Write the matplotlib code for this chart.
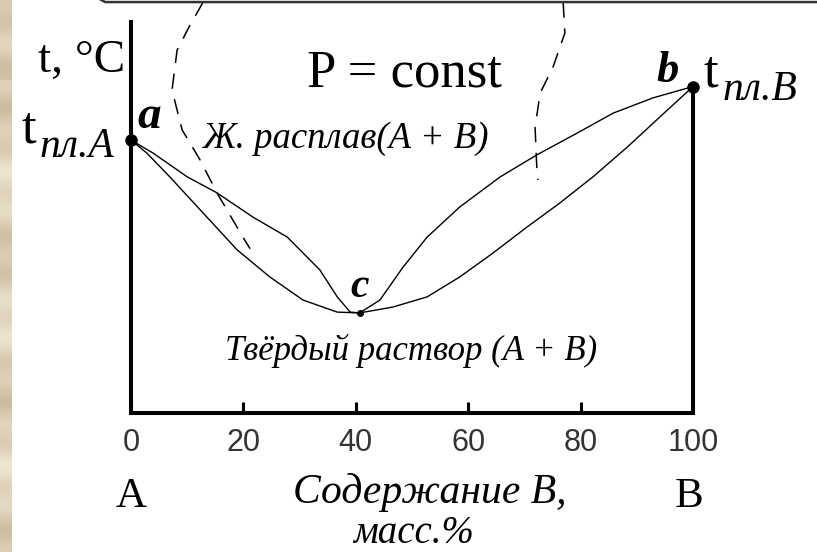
import numpy as np
import matplotlib.pyplot as plt
from matplotlib.colors import LinearSegmentedColormap

# состав, масс.% B  /  температура (условные единицы)
liq_left_x = [0, 3.9, 10.0, 15.3, 21.7, 27.8, 33.6, 36.7, 39.0, 40.7]
liq_left_t = [69.8, 66.5, 60.4, 56.3, 50.1, 45.0, 36.6, 29.7, 25.8, 25.6]
sol_left_x = [0, 2.8, 6.9, 12.8, 18.9, 24.7, 30.6, 36.7, 40.7]
sol_left_t = [69.8, 66.5, 60.4, 51.2, 41.7, 34.8, 28.9, 25.8, 25.6]
liq_right_x = [40.7, 44.3, 48.4, 52.7, 58.5, 65.7, 72.2, 79.4, 85.8, 92.9, 100]
liq_right_t = [25.6, 28.9, 37.3, 45.0, 52.7, 60.4, 66.0, 71.6, 76.7, 80.6, 83.5]
sol_right_x = [40.7, 46.6, 52.7, 58.5, 64.4, 70.5, 76.3, 82.2, 88.3, 94.1, 100]
sol_right_t = [25.6, 27.1, 29.7, 34.8, 40.9, 47.6, 53.7, 60.4, 68.0, 75.7, 83.5]

# точки a, b, c
pt_x = [0, 100, 40.7]
pt_t = [69.8, 83.5, 25.6]

# пунктирная выноска от рамки заголовка
dash_left_x = [12.8, 10.5, 8.2, 7.3, 9.1, 12.3, 15.3, 19.9, 21.2]
dash_left_t = [105.0, 99.2, 92.8, 82.6, 72.4, 64.7, 56.3, 45.0, 42.0]
dash_right_x = [76.9, 77.2, 75.1, 72.8, 71.9, 72.2, 72.4]
dash_right_t = [105.0, 97.2, 88.5, 81.8, 73.1, 62.9, 59.6]

xticks = [0, 20, 40, 60, 80, 100]

serif = 'Liberation Serif'

fig = plt.figure(figsize=(8.17, 5.52), dpi=100)
fig.patch.set_facecolor('white')

# мраморная полоса слева
strip = fig.add_axes([0, 0, 12 / 817, 1])
rows = np.arange(552)
tex = 0.5 + 0.3 * np.sin(rows / 23.0) + 0.2 * np.sin(rows / 6.7 + 1.3)
tex[:80] -= 0.35
beige = LinearSegmentedColormap.from_list('beige', ['#c4b596', '#efe5d2'])
strip.imshow(tex[:, None], aspect='auto', cmap=beige, vmin=-0.2, vmax=1.0,
             extent=[0, 1, 0, 1])
strip.set_axis_off()

ax = fig.add_axes([131 / 817, (552 - 413) / 552, 562 / 817, 391 / 552])
ax.set_xlim(0, 100)
ax.set_ylim(0, 100)
ax.patch.set_alpha(0)

# ликвидус и солидус
ax.plot(liq_left_x, liq_left_t, color='black', lw=1.0)
ax.plot(sol_left_x, sol_left_t, color='black', lw=1.0)
ax.plot(liq_right_x, liq_right_t, color='black', lw=1.0)
ax.plot(sol_right_x, sol_right_t, color='black', lw=1.0)

ax.plot(pt_x[:2], pt_t[:2], 'o', color='black', ms=8, clip_on=False, zorder=5)
ax.plot(pt_x[2], pt_t[2], 'o', color='black', ms=4, clip_on=False, zorder=5)

# правая ось B
ax.plot([100, 100], [0, pt_t[1]], color='black', lw=2.9, clip_on=False,
        solid_capstyle='butt')

ax.plot(dash_left_x, dash_left_t, color='black', lw=1.1,
        linestyle=(0, (10, 7)), clip_on=False)
ax.plot(dash_right_x, dash_right_t, color='black', lw=1.1,
        linestyle=(0, (10, 7)), clip_on=False)

# нижний край рамки заголовка
ax.plot([-5.9, -5.6, -4.6, 130], [108, 105.9, 105.1, 105.1], color='#333333',
        lw=1.8, clip_on=False)

ax.spines['top'].set_visible(False)
ax.spines['right'].set_visible(False)
for s in ('left', 'bottom'):
    ax.spines[s].set_linewidth(2.9)
    ax.spines[s].set_capstyle('projecting')

ax.set_yticks([])
ax.set_xticks(xticks)
ax.set_xticklabels([str(v) for v in xticks], family='Liberation Sans',
                   fontsize=22, color='#333333')
ax.tick_params(axis='x', direction='in', length=8, width=2.2, pad=11)

ax.text(-16.5, 87.2, 't, °C', family=serif, fontsize=34, clip_on=False)
ax.text(31.3, 83.4, 'P = const', family=serif, fontsize=38)
ax.text(-19.4, 69.1, 't', family=serif, fontsize=38, clip_on=False)
ax.text(-16.2, 65.5, 'пл.A', family=serif, style='italic', fontsize=30,
        clip_on=False)
ax.text(1.2, 72.9, 'a', family=serif, style='italic', weight='bold',
        fontsize=34)
ax.text(93.4, 84.6, 'b', family=serif, style='italic', weight='bold',
        fontsize=32)
ax.text(101.8, 83.4, 't', family=serif, fontsize=38, clip_on=False)
ax.text(105.3, 80.1, 'пл.B', family=serif, style='italic', fontsize=30,
        clip_on=False)
ax.text(39.0, 29.7, 'c', family=serif, style='italic', weight='bold',
        fontsize=30)
ax.text(12.8, 67.8, 'Ж. расплав(A + B)', family=serif, style='italic',
        fontsize=26.5)
ax.text(16.7, 13.6, 'Твёрдый раствор (A + B)', family=serif, style='italic',
        fontsize=25)

ax.text(0, -24, 'A', family=serif, fontsize=31, ha='center', clip_on=False)
ax.text(99.3, -24, 'B', family=serif, fontsize=31, ha='center', clip_on=False)
ax.text(28.8, -23, 'Содержание B,', family=serif, style='italic',
        fontsize=30, clip_on=False)
ax.text(39.5, -33.2, 'масс.%', family=serif, style='italic', fontsize=28,
        clip_on=False)

fig.savefig('out.png', dpi=100)
